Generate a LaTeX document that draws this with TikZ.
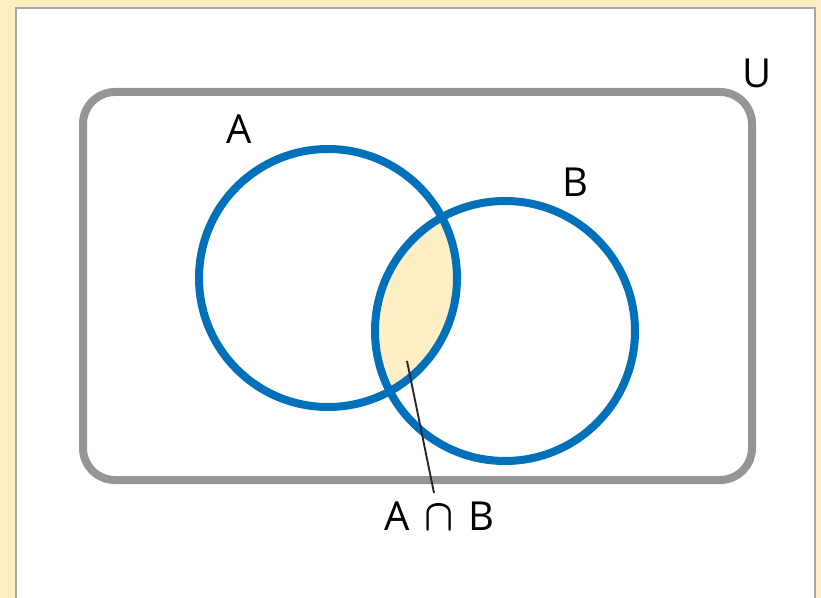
\documentclass[tikz,border=0pt]{standalone}
\usepackage{amsmath}
\usepackage{fontspec}
\setmainfont{Open Sans}
\usepackage{xcolor}
\definecolor{cream}{RGB}{255,239,197}
\definecolor{setblue}{RGB}{0,112,186}
\definecolor{setgray}{RGB}{148,149,152}

\begin{document}
\begin{tikzpicture}[x=0.75pt,y=-0.75pt]
\tikzset{setcircle/.style={line width=6pt,color=setblue},
         setlabel/.style={font=\fontsize{30}{34}\selectfont,inner sep=0pt}}
% Background and panel
\fill[cream](0,0) rectangle (821,598);
\useasboundingbox (0,0) rectangle (821,598);
\filldraw[fill=white,draw=gray!70,line width=1.5pt](16,8) rectangle (815,610);
% Universe
\draw[setgray,line width=6pt,rounded corners=24pt](83,92) rectangle (752,480);
\node[setlabel] (labU) at (757,73) {U};
% Circle centres
\coordinate (cA) at (328,278);
\coordinate (cB) at (505,331);
% Intersection
\begin{scope}
  \clip (cA) circle (129);
  \fill[cream] (cB) circle (130);
\end{scope}
% Circles
\draw[setcircle] (cA) circle (129);
\draw[setcircle] (cB) circle (130);
\node[setlabel] (labA) at (239,129) {A};
\node[setlabel] (labB) at (575,182) {B};
% A cap B label
\node[setlabel,anchor=base west] (labAB) at (384,530)
  {A\hspace{11pt}\scalebox{1.15}[1.35]{$\boldsymbol{\cap}$}\hspace{11pt}B};
\coordinate (lens) at (407,361);
\coordinate (capTop) at (434,493);
\draw[line width=1.4pt,black!85] (lens) -- (capTop);
\end{tikzpicture}
\end{document}
